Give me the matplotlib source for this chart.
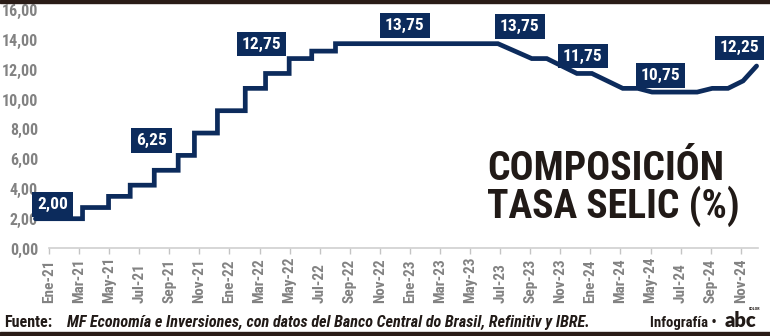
import os
import matplotlib
matplotlib.use('Agg')
import matplotlib.pyplot as plt
from matplotlib import font_manager as fm
from matplotlib import transforms
from matplotlib.patches import Rectangle

# months counted from Ene-21 (0 = Ene-21)
step_month = [-0.9, 2.23, 3.96, 5.4, 7.0, 8.59, 9.67, 11.2, 13.05, 14.4, 15.97, 17.47, 19.05, 29.85]
step_rate = [2.00, 2.75, 3.50, 4.25, 5.25, 6.25, 7.75, 9.25, 10.75, 11.75, 12.75, 13.25, 13.75, 13.75]

line_month = [32.1, 33.1, 35.1, 36.1, 38.15, 39.15, 40.1, 43.1, 44.1, 45.15, 46.15, 47.05]
line_rate = [12.75, 12.75, 11.75, 11.75, 10.75, 10.75, 10.50, 10.50, 10.75, 10.75, 11.25, 12.25]

label_text = ['2,00', '6,25', '12,75', '13,75', '13,75', '11,75', '10,75', '12,25']
label_month = [0, 8.59, 15.97, 24, 29.85, 35.1, 39.15, 47.05]
label_rate = [2.00, 6.25, 12.75, 13.75, 13.75, 11.75, 10.75, 12.25]
label_offset = [(2.5, 10.2), (-19.2, 10.7), (-19.9, 10.4), (-3.6, 13), (15.8, 12.2),
                (4.3, 12.5), (16.2, 9.2), (-12.2, 13)]

month_names = ['Ene', 'Mar', 'May', 'Jul', 'Sep', 'Nov']
years = ['21', '22', '23', '24']
tick_labels = [m + '-' + y for y in years for m in month_names]
tick_month = list(range(0, 47, 2))

y_ticks = [0, 2, 4, 6, 8, 10, 12, 14, 16]
y_labels = ['%.2f' % v for v in y_ticks]
y_labels = [s.replace('.', ',') for s in y_labels]

navy = '#0c2b5c'
grey = '#828282'
ink = '#211a17'

files = {os.path.basename(f.fname).lower(): f.fname for f in fm.fontManager.ttflist}


def font(names, size, **fallback):
    for n in names:
        if n.lower() in files:
            p = fm.FontProperties(fname=files[n.lower()])
            p.set_size(size)
            return p
    p = fm.FontProperties(family='DejaVu Sans', stretch='condensed', **fallback)
    p.set_size(size)
    return p


bold_names = ['RobotoCondensed-Bold.ttf', 'LiberationSansNarrow-Bold.ttf',
              'DejaVuSansCondensed-Bold.ttf']
italic_names = ['RobotoCondensed-BoldItalic.ttf', 'LiberationSansNarrow-BoldItalic.ttf',
                'DejaVuSansCondensed-BoldOblique.ttf']

fig = plt.figure(figsize=(7.7, 3.36), dpi=100)
ax = fig.add_axes([30 / 770, 1 - 252 / 336, 732 / 770, 249 / 336])
ax.set_xlim(-1.263, 47.41)
ax.set_ylim(-0.235, 16.48)

# expand the step part into vertices, then continue with the sloped part
xs, ys = [], []
for i in range(len(step_month) - 1):
    xs += [step_month[i], step_month[i + 1]]
    ys += [step_rate[i], step_rate[i]]
xs += line_month
ys += line_rate
ax.plot(xs, ys, color=navy, lw=3.4, solid_joinstyle='miter', solid_capstyle='round',
        clip_on=False, zorder=3)

for t, m, v, off in zip(label_text, label_month, label_rate, label_offset):
    ax.annotate(t, xy=(m, v), xytext=off, textcoords='offset points',
                ha='center', va='center', color='white',
                fontproperties=font(bold_names, 12.5, weight='bold'),
                bbox=dict(boxstyle='square,pad=0.28', fc=navy, ec='none'),
                zorder=5, annotation_clip=False)

for s in ['top', 'right', 'left']:
    ax.spines[s].set_visible(False)
ax.spines['bottom'].set_position(('data', 0))
ax.spines['bottom'].set_bounds(0, 47.14)
ax.spines['bottom'].set_color('#cfcfcf')
ax.spines['bottom'].set_linewidth(1.2)

ax.set_xticks(tick_month)
ax.set_xticklabels([])
ax.tick_params(axis='x', length=4.5, width=1, color='#c4c4c4', direction='out')

ax.set_yticks(y_ticks)
ax.set_yticklabels(y_labels, fontproperties=font(bold_names, 11.5, weight='bold'), color=grey)
ax.tick_params(axis='y', length=0, pad=-5.8)

trans = transforms.blended_transform_factory(ax.transData, ax.transAxes)
for m, t in zip(tick_month, tick_labels):
    ax.text(m, -0.205, t, transform=trans, rotation=90, ha='center', va='bottom',
            color=grey, fontproperties=font(bold_names, 11, weight='bold'), clip_on=False)

# title
fig.text(487 / 770, 1 - 180 / 336, 'COMPOSICIÓN', va='baseline', color=ink,
         fontproperties=font(bold_names, 28.5, weight='bold'))
fig.text(487 / 770, 1 - 218 / 336, 'TASA SELIC (%)', va='baseline', color=ink,
         fontproperties=font(bold_names, 28.5, weight='bold'))

# footer
base = 1 - 327 / 336
fig.text(4 / 770, base, 'Fuente:', va='baseline', color=ink,
         fontproperties=font(bold_names, 11.5, weight='bold'))
fig.text(67 / 770, base,
         'MF Economía e Inversiones, con datos del Banco Central do Brasil, Refinitiv y IBRE.',
         va='baseline', color=ink, fontproperties=font(italic_names, 11.6, weight='bold', style='italic'))
fig.text(650 / 770, base, 'Infografía •', va='baseline', color=ink,
         fontproperties=font(bold_names, 10.6, weight='bold'))
fig.text(725 / 770, base, 'abc', va='baseline', color=ink,
         fontproperties=font(['Lato-Black.ttf'] + bold_names, 14.5, weight='bold'))
fig.text(749 / 770, 1 - 310 / 336, 'COLOR', va='baseline', color=ink,
         fontproperties=font(bold_names, 3, weight='bold'))

# dark print bands at top and bottom
fig.patches.append(Rectangle((0, 1 - 3 / 336), 1, 3 / 336, transform=fig.transFigure,
                             color='#2a1c17', zorder=10))
fig.patches.append(Rectangle((0, 0), 1, 4 / 336, transform=fig.transFigure,
                             color='#2a1c17', zorder=10))

fig.savefig('out.png', dpi=100)
